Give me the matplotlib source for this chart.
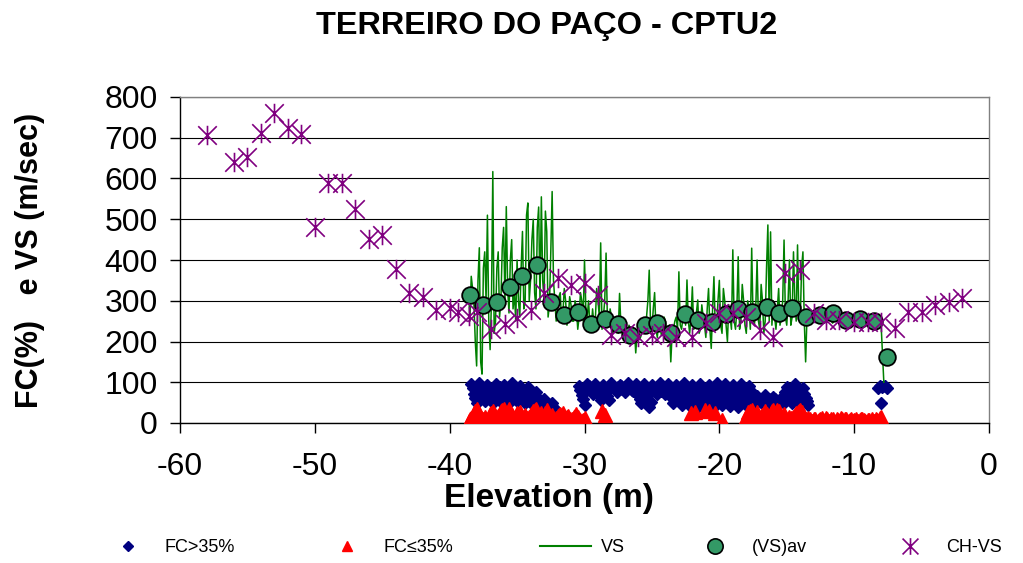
import matplotlib
matplotlib.use('Agg')
import matplotlib.pyplot as plt
from matplotlib.path import Path
from matplotlib.lines import Line2D

plt.rcParams['font.family'] = ['Liberation Sans', 'DejaVu Sans']
plt.rcParams['axes.unicode_minus'] = False

# ---------------- data ----------------
chvs_elev = [-58, -56, -55, -54, -53, -52, -51, -50, -49, -48, -47, -46, -45, -44, -43, -42,
             -41, -40, -39.4, -38.6, -38, -36.9, -35.9, -35, -34, -33, -32, -31, -30, -29,
             -28, -27, -26, -25, -24.2, -23.2, -22, -21, -20, -19, -18, -17, -16, -15.1, -14,
             -13, -12.1, -11.1, -10, -9, -8, -7, -6, -5, -4, -3, -2]
chvs_val = [707, 640, 653, 711, 760, 725, 708, 482, 588, 588, 525, 452, 461, 377, 320, 308,
            277, 283, 273, 262, 272, 230, 243, 257, 277, 318, 355, 339, 343, 314,
            216, 220, 212, 216, 220, 212, 212, 245, 269, 269, 261, 228, 212, 367, 375,
            269, 253, 253, 249, 249, 249, 232, 273, 273, 290, 298, 306]

vsav_elev = [-38.5, -37.5, -36.5, -35.55, -34.6, -33.5, -32.5, -31.55, -30.5, -29.55, -28.5,
             -27.5, -26.6, -25.5, -24.6, -23.6, -22.55, -21.55, -20.55, -19.5, -18.6, -17.6,
             -16.5, -15.55, -14.6, -13.6, -12.5, -11.6, -10.6, -9.6, -8.55, -7.6]
vsav_val = [314, 290, 298, 333, 361, 388, 298, 265, 273, 243, 254,
            243, 216, 240, 245, 220, 267, 253, 249, 267, 279, 273,
            285, 269, 281, 261, 265, 271, 253, 255, 251, 163]

vs_elev = [-38.8, -38.7, -38.6, -38.5, -38.4, -38.3, -38.2, -38.1, -38.0, -37.9,
           -37.8, -37.7, -37.6, -37.5, -37.4, -37.3, -37.2, -37.1, -37.0, -36.9,
           -36.8, -36.7, -36.6, -36.5, -36.4, -36.3, -36.2, -36.1, -36.0, -35.9,
           -35.8, -35.7, -35.6, -35.5, -35.4, -35.3, -35.2, -35.1, -35.0, -34.9,
           -34.8, -34.7, -34.6, -34.5, -34.4, -34.3, -34.2, -34.1, -34.0, -33.9,
           -33.8, -33.7, -33.6, -33.5, -33.4, -33.3, -33.2, -33.1, -33.0, -32.9,
           -32.8, -32.7, -32.6, -32.5, -32.4, -32.3, -32.2, -32.1, -32.0, -31.9,
           -31.8, -31.7, -31.6, -31.5, -31.4, -31.3, -31.2, -31.1, -31.0, -30.9,
           -30.8, -30.7, -30.6, -30.5, -30.4, -30.3, -30.2, -30.1, -30.0, -29.9,
           -29.8, -29.7, -29.6, -29.5, -29.4, -29.3, -29.2, -29.1, -29.0, -28.9,
           -28.8, -28.7, -28.6, -28.5, -28.4, -28.3, -28.2, -28.1, -28.0, -27.9,
           -27.8, -27.7, -27.6, -27.5, -27.4, -27.3, -27.2, -27.1, -27.0, -26.9,
           -26.8, -26.7, -26.6, -26.5, -26.4, -26.3, -26.2, -26.1, -26.0, -25.9,
           -25.8, -25.7, -25.6, -25.5, -25.4, -25.3, -25.2, -25.1, -25.0, -24.9,
           -24.8, -24.7, -24.6, -24.5, -24.4, -24.3, -24.2, -24.1, -24.0, -23.9,
           -23.8, -23.7, -23.6, -23.5, -23.4, -23.3, -23.2, -23.1, -23.0, -22.9,
           -22.8, -22.7, -22.6, -22.5, -22.4, -22.3, -22.2, -22.1, -22.0, -21.9,
           -21.8, -21.7, -21.6, -21.5, -21.4, -21.3, -21.2, -21.1, -21.0, -20.9,
           -20.8, -20.7, -20.6, -20.5, -20.4, -20.3, -20.2, -20.1, -20.0, -19.9,
           -19.8, -19.7, -19.6, -19.5, -19.4, -19.3, -19.2, -19.1, -19.0, -18.9,
           -18.8, -18.7, -18.6, -18.5, -18.4, -18.3, -18.2, -18.1, -18.0, -17.9,
           -17.8, -17.7, -17.6, -17.5, -17.4, -17.3, -17.2, -17.1, -17.0, -16.9,
           -16.8, -16.7, -16.6, -16.5, -16.4, -16.3, -16.2, -16.1, -16.0, -15.9,
           -15.8, -15.7, -15.6, -15.5, -15.4, -15.3, -15.2, -15.1, -15.0, -14.9,
           -14.8, -14.7, -14.6, -14.5, -14.4, -14.3, -14.2, -14.1, -14.0, -13.9,
           -13.8, -13.7, -13.6, -13.5, -13.4, -13.3, -13.2, -13.1, -13.0, -12.9,
           -12.8, -12.6, -12.4, -12.2, -12.0, -11.8, -11.6, -11.4, -11.2, -11.0,
           -10.8, -10.6, -10.4, -10.2, -10.0, -9.8, -9.6, -9.4, -9.2, -9.0,
           -8.8, -8.6, -8.4, -8.2, -8.0, -7.8]
vs_val = [300, 320, 330, 250, 360, 330, 290, 200, 140, 350,
          430, 150, 120, 380, 420, 300, 510, 250, 180, 300,
          617, 220, 250, 380, 420, 260, 300, 430, 480, 300,
          531, 330, 270, 400, 450, 280, 320, 250, 400, 300,
          260, 380, 470, 280, 300, 510, 540, 300, 350, 450,
          500, 320, 280, 480, 530, 300, 555, 350, 300, 520,
          470, 260, 290, 420, 568, 350, 300, 250, 280, 310,
          320, 250, 270, 330, 300, 240, 260, 310, 290, 250,
          250, 300, 280, 230, 260, 320, 300, 250, 400, 280,
          260, 300, 240, 230, 280, 240, 250, 330, 300, 260,
          442, 230, 260, 300, 417, 250, 240, 280, 260, 220,
          230, 260, 250, 220, 318, 240, 220, 250, 240, 200,
          210, 240, 230, 215, 200, 230, 172, 220, 230, 205,
          215, 250, 240, 220, 260, 300, 375, 240, 230, 280,
          320, 230, 210, 250, 240, 215, 225, 260, 250, 220,
          200, 240, 150, 220, 230, 250, 260, 230, 371, 240,
          230, 260, 280, 240, 351, 250, 220, 260, 334, 230,
          240, 270, 302, 220, 230, 290, 260, 240, 210, 280,
          330, 230, 183, 280, 359, 230, 240, 300, 350, 240,
          220, 330, 300, 240, 200, 290, 260, 230, 425, 250,
          230, 280, 408, 230, 250, 340, 300, 240, 220, 300,
          280, 230, 429, 260, 240, 280, 400, 250, 230, 340,
          300, 220, 250, 380, 486, 250, 469, 240, 300, 260,
          230, 280, 330, 240, 260, 300, 449, 260, 240, 300,
          400, 240, 260, 420, 300, 250, 437, 260, 250, 380,
          420, 250, 150, 260, 270, 250, 255, 262, 265, 250,
          250, 260, 248, 262, 252, 258, 245, 255, 250, 258,
          246, 255, 250, 256, 244, 252, 248, 255, 246, 252,
          245, 250, 243, 248, 240, 100]

fc_hi_elev = [-38.4, -38.2, -38.0, -37.8, -37.6, -37.4, -37.2, -37.0, -36.8, -36.6,
              -36.4, -36.2, -36.0, -35.8, -35.6, -35.4, -35.2, -35.0, -34.8, -34.6,
              -34.4, -34.2, -34.0, -33.8, -33.6, -33.4, -33.2, -33.0, -32.8, -32.6,
              -32.4, -32.2,
              -38.3, -38.1, -37.9, -37.7, -37.5, -37.3, -37.1, -36.9, -36.7, -36.5,
              -36.3, -36.1, -35.9, -35.7, -35.5, -35.3, -35.1, -34.9, -34.7, -34.5,
              -34.3, -34.1, -33.9, -33.7, -33.5, -33.3, -33.1, -32.9, -32.7, -32.5,
              -32.3,
              -30.4, -30.2, -30.0, -29.8, -29.6, -29.4, -29.2, -29.0, -28.8, -28.6,
              -28.4, -28.2, -28.0, -27.8, -27.6, -27.4, -27.2, -27.0, -26.8, -26.6,
              -26.4, -26.2, -26.0, -25.8, -25.6, -25.4, -25.2, -25.0, -24.8, -24.6,
              -24.4, -24.2, -24.0, -23.8, -23.6, -23.4, -23.2, -23.0, -22.8, -22.6,
              -22.4, -22.2, -22.0, -21.8, -21.6, -21.4, -21.2, -21.0, -20.8, -20.6,
              -20.4, -20.2, -20.0, -19.8, -19.6, -19.4, -19.2, -19.0, -18.8, -18.6,
              -18.4, -18.2, -18.0, -17.8, -17.6, -17.4, -17.2, -17.0, -16.8, -16.6,
              -16.4, -16.2, -16.0, -15.8, -15.6, -15.4, -15.2, -15.0, -14.8, -14.6,
              -14.4, -14.2, -14.0, -13.8, -13.6, -13.4,
              -30.3, -30.1, -29.9, -29.7, -29.5, -29.3, -29.1, -28.9, -28.7, -28.5,
              -28.3, -28.1, -27.9, -27.7, -27.5, -27.3, -27.1, -26.9, -26.7, -26.5,
              -26.3, -26.1, -25.9, -25.7, -25.5, -25.3, -25.1, -24.9, -24.7, -24.5,
              -24.3, -24.1, -23.9, -23.7, -23.5, -23.3, -23.1, -22.9, -22.7, -22.5,
              -22.3, -22.1, -21.9, -21.7, -21.5, -21.3, -21.1, -20.9, -20.7, -20.5,
              -20.3, -20.1, -19.9, -19.7, -19.5, -19.3, -19.1, -18.9, -18.7, -18.5,
              -18.3, -18.1, -17.9, -17.7, -17.5, -17.3, -17.1, -16.9, -16.7, -16.5,
              -16.3, -16.1, -15.9, -15.7, -15.5, -15.3, -15.1, -14.9, -14.7, -14.5,
              -14.3, -14.1, -13.9, -13.7, -13.5,
              -8.2, -8.1, -8.0, -7.9, -7.7, -7.6]
fc_hi_val = [95, 72, 50, 97, 75, 55, 94, 70, 48, 96,
             74, 52, 93, 72, 50, 97, 75, 55, 92, 70,
             50, 88, 68, 45, 75, 58, 40, 60, 45, 32,
             48, 35,
             85, 62, 88, 65, 80, 60, 86, 58, 82, 64,
             88, 60, 84, 63, 87, 66, 80, 60, 84, 58,
             78, 55, 65, 50, 62, 48, 52, 38, 42, 30,
             40,
             92, 68, 45, 95, 82, 70, 96, 76, 57, 94,
             75, 56, 97, 86, 76, 93, 84, 75, 98, 87,
             78, 95, 68, 48, 96, 66, 40, 93, 80, 70,
             97, 84, 72, 95, 72, 50, 94, 70, 45, 97,
             68, 42, 93, 66, 40, 96, 69, 42, 94, 67,
             40, 98, 70, 43, 95, 68, 41, 93, 66, 40,
             96, 70, 45, 90, 70, 52, 66, 55, 48, 68,
             57, 47, 65, 55, 46, 62, 50, 88, 70, 48,
             95, 72, 46, 85, 62, 45,
             80, 58, 88, 90, 78, 85, 88, 68, 82, 86,
             66, 85, 92, 82, 88, 90, 80, 86, 93, 82,
             88, 80, 58, 85, 55, 80, 52, 86, 76, 90,
             78, 88, 82, 86, 62, 82, 58, 85, 56, 82,
             55, 80, 54, 84, 52, 82, 55, 80, 54, 84,
             55, 86, 56, 82, 54, 80, 52, 84, 55, 82,
             58, 80, 56, 80, 62, 58, 60, 52, 62, 50,
             60, 52, 60, 50, 56, 55, 75, 78, 60, 85,
             60, 78, 58, 72, 55,
             85, 92, 50, 88, 90, 85]

fc_lo_elev = [-38.6, -38.4, -38.2, -38.0, -37.8, -37.6, -37.4, -37.2, -37.0, -36.8,
              -36.6, -36.4, -36.2, -36.0, -35.8, -35.6, -35.4, -35.2, -35.0, -34.8,
              -34.6, -34.4, -34.2, -34.0, -33.8, -33.6, -33.4, -33.2, -33.0, -32.8,
              -32.6, -32.4, -32.2, -32.0, -31.8, -31.6, -31.4, -31.2, -31.0, -30.8,
              -30.6, -30.4, -30.2, -30.0,
              -38.5, -38.3, -38.1, -37.9, -37.7, -37.5, -37.3, -37.1, -36.9, -36.7,
              -36.5, -36.3, -36.1, -35.9, -35.7, -35.5, -35.3, -35.1, -34.9, -34.7,
              -34.5, -34.3, -34.1, -33.9, -33.7, -33.5, -33.3, -33.1, -32.9, -32.7,
              -32.5, -32.3, -32.1, -31.9, -31.7, -31.5, -31.3, -31.1, -30.9, -30.7,
              -30.5, -30.3, -30.1,
              -28.7, -28.5,
              -22.1, -21.8, -21.1, -20.8, -20.3, -19.8,
              -18.0, -17.8, -17.6, -17.4, -17.2, -17.0, -16.8, -16.6, -16.4, -16.2,
              -16.0, -15.8, -15.6, -15.4, -15.2, -15.0, -14.8, -14.6, -14.4, -14.2,
              -14.0, -13.8, -13.6, -13.4, -13.2, -13.0, -12.8, -12.6, -12.4, -12.2,
              -12.0, -11.8, -11.6, -11.4, -11.2, -11.0, -10.8, -10.6, -10.4, -10.2,
              -10.0, -9.8, -9.6, -9.4, -9.2, -9.0, -8.8, -8.6, -8.4, -8.2,
              -8.0,
              -17.9, -17.7, -17.5, -17.3, -17.1, -16.9, -16.7, -16.5, -16.3, -16.1,
              -15.9, -15.7, -15.5, -15.3, -15.1, -14.9, -14.7, -14.5, -14.3, -14.1,
              -13.9, -13.7, -13.5, -13.3, -13.1, -12.9, -12.7, -12.5, -12.3, -12.1,
              -11.9, -11.7, -11.5, -11.3, -11.1, -10.9, -10.7, -10.5, -10.3, -10.1,
              -9.9, -9.7, -9.5, -9.3, -9.1, -8.9, -8.7, -8.5, -8.3, -8.1]
fc_lo_val = [5, 12, 25, 35, 20, 8, 15, 5, 22, 30,
             10, 18, 30, 35, 15, 35, 20, 6, 25, 28,
             12, 20, 8, 22, 30, 35, 18, 25, 10, 32,
             15, 20, 8, 18, 22, 25, 12, 18, 5, 15,
             22, 10, 5, 12,
             10, 18, 30, 28, 12, 10, 8, 12, 25, 20,
             12, 25, 32, 25, 28, 25, 12, 15, 22, 18,
             15, 12, 15, 25, 32, 25, 20, 15, 25, 22,
             15, 12, 12, 20, 18, 15, 15, 10, 10, 18,
             15, 8, 8,
             30, 20,
             25, 28, 32, 30, 25, 8,
             15, 25, 33, 15, 28, 8, 20, 30, 12, 25,
             33, 18, 30, 10, 22, 5, 15, 8, 20, 28,
             33, 18, 10, 12, 5, 10, 3, 8, 12, 4,
             9, 6, 11, 3, 8, 12, 5, 9, 4, 10,
             7, 3, 8, 11, 4, 7, 2, 6, 9, 4,
             15,
             28, 30, 22, 20, 15, 12, 25, 22, 18, 30,
             25, 33, 20, 15, 12, 10, 12, 15, 25, 30,
             28, 15, 8, 9, 6, 11, 5, 10, 7, 12,
             4, 9, 6, 10, 5, 9, 11, 4, 8, 6,
             10, 5, 9, 7, 3, 8, 10, 5, 8, 12]

x_ticks = [-60, -50, -40, -30, -20, -10, 0]
y_ticks = [0, 100, 200, 300, 400, 500, 600, 700, 800]
legend_labels = ['FC>35%', 'FC≤35%', 'VS', '(VS)av', 'CH-VS']

# ---------------- styles ----------------
C_HI = '#000080'
C_LO = '#FF0000'
C_VS = '#008000'
C_AV = '#339966'
C_CH = '#800080'
star = Path([(-1, -1), (1, 1), (-1, 1), (1, -1), (0, -1.05), (0, 1.05)],
            [Path.MOVETO, Path.LINETO, Path.MOVETO, Path.LINETO, Path.MOVETO, Path.LINETO])

W, H = 1023, 563
fig = plt.figure(figsize=(W / 100, H / 100), dpi=100)
ax = fig.add_axes([180 / W, 1 - 423 / H, (989 - 180) / W, (423 - 97) / H])

ax.plot(fc_hi_elev, fc_hi_val, ls='none', marker='D', ms=6.5, color=C_HI, mec=C_HI, zorder=3)
ax.plot(fc_lo_elev, fc_lo_val, ls='none', marker='^', ms=9.5, color=C_LO, mec=C_LO, zorder=4)
ax.plot(vs_elev, vs_val, color=C_VS, lw=1.1, zorder=5)
ax.plot(vsav_elev, vsav_val, ls='none', marker='o', ms=12, mfc=C_AV, mec='black', mew=1.3, zorder=6)
ax.plot(chvs_elev, chvs_val, ls='none', marker=star, ms=14, mfc='none', mec=C_CH, mew=1.2, zorder=7)

ax.set_xlim(-60, 0)
ax.set_ylim(0, 800)
ax.set_xticks(x_ticks)
ax.set_yticks(y_ticks)
ax.yaxis.grid(True, color='black', lw=0.8)
ax.set_axisbelow(True)
ax.tick_params(axis='both', direction='out', length=7, width=1, labelsize=23, color='black')
ax.tick_params(axis='y', pad=9)
ax.tick_params(axis='x', pad=14)
for s in ['left', 'bottom']:
    ax.spines[s].set_color('black')
    ax.spines[s].set_linewidth(1.0)
for s in ['top', 'right']:
    ax.spines[s].set_color('#808080')
    ax.spines[s].set_linewidth(1.0)

fig.text(547 / W, 1 - 26 / H, 'TERREIRO DO PAÇO - CPTU2', ha='center', va='center',
         fontsize=23.4, fontweight='bold')
fig.text(549 / W, 1 - 498 / H, 'Elevation (m)', ha='center', va='center',
         fontsize=24, fontweight='bold')
fig.text(30 / W, 1 - 260 / H, 'FC(%)   e VS (m/sec)', ha='center', va='center',
         rotation=90, fontsize=22, fontweight='bold')

handles = [
    Line2D([], [], ls='none', marker='D', ms=5, color=C_HI),
    Line2D([], [], ls='none', marker='^', ms=7, color=C_LO),
    Line2D([], [], color=C_VS, lw=1.5),
    Line2D([], [], ls='none', marker='o', ms=11, mfc=C_AV, mec='black', mew=1.2),
    Line2D([], [], ls='none', marker=star, ms=12, mfc='none', mec=C_CH, mew=1.2),
]
legend_x = [103, 322, 540, 690, 885]
for hx, hdl, lab in zip(legend_x, handles, legend_labels):
    fig.legend([hdl], [lab], loc='center left', bbox_to_anchor=(hx / W, 1 - 548 / H),
               frameon=False, fontsize=13, handlelength=2.8, handletextpad=0.6,
               borderpad=0, borderaxespad=0)

fig.savefig('out.png', dpi=100)
